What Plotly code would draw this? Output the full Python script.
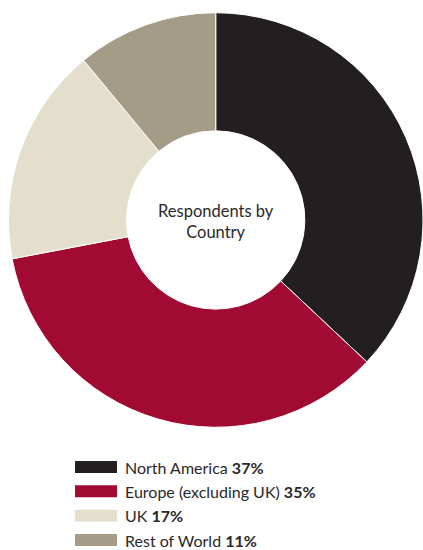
import plotly.graph_objects as go

categories = ["North America", "Europe (excluding UK)", "UK", "Rest of World"]
values = [37, 35, 17, 11]
colors = ["#231F20", "#A10A33", "#E3DFCC", "#A59C87"]
center_title = "Respondents by<br>Country"

W, H = 423, 550
FONT = "Lato"
TEXT_COLOR = "#2b2829"

fig = go.Figure(go.Pie(
    labels=categories,
    values=values,
    marker=dict(colors=colors, line=dict(color="white", width=1)),
    hole=0.43,
    sort=False,
    direction="clockwise",
    rotation=0,
    textinfo="none",
    hoverinfo="label+percent",
    showlegend=False,
    domain=dict(x=[0.02, 1.0], y=[1 - 430 / H, 1 - 10 / H]),
))

fig.add_annotation(
    x=0.51, y=1 - 222 / H, xref="paper", yref="paper",
    text=center_title, showarrow=False,
    font=dict(family=FONT, size=16.5, color=TEXT_COLOR),
    align="center",
)

# manual legend built from the data lists
row_y = [467, 491, 516, 540]
for i, (cat, val, col) in enumerate(zip(categories, values, colors)):
    yc = row_y[0] + i * (row_y[-1] - row_y[0]) / (len(categories) - 1)
    fig.add_shape(
        type="rect", xref="paper", yref="paper",
        x0=75 / W, x1=117 / W,
        y0=1 - (yc - 6) / H, y1=1 - (yc + 6) / H,
        fillcolor=col, line=dict(width=0),
    )
    fig.add_annotation(
        x=123 / W, y=1 - yc / H, xref="paper", yref="paper",
        xanchor="left", yanchor="middle", showarrow=False,
        text=f"{cat} <b>{val}%</b>",
        font=dict(family=FONT, size=16, color=TEXT_COLOR),
    )

fig.update_layout(
    width=W, height=H,
    margin=dict(l=0, r=0, t=0, b=0),
    paper_bgcolor="white",
    plot_bgcolor="white",
)

fig.write_html("out.html")
